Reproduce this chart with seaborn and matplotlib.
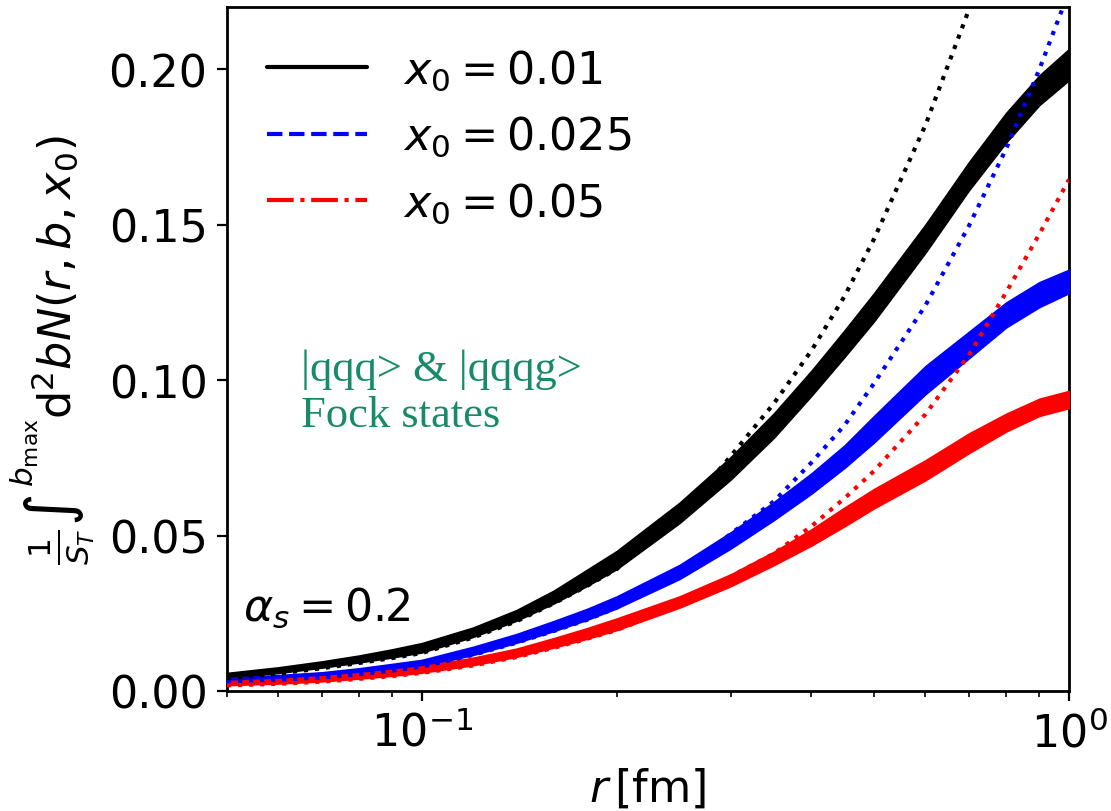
import numpy as np
import seaborn as sns
import matplotlib.pyplot as plt

# dipole size r [fm]
r = [0.05, 0.06, 0.07, 0.08, 0.09, 0.10, 0.12, 0.14, 0.16, 0.18, 0.20,
     0.25, 0.30, 0.35, 0.40, 0.45, 0.50, 0.60, 0.70, 0.80, 0.90, 1.00]

# bands (lower / upper edge) for each x0
black_lo = [0.0042, 0.0058, 0.0075, 0.0092, 0.0108, 0.0124, 0.0174, 0.0226, 0.0282, 0.0338, 0.0392,
            0.0540, 0.0680, 0.0815, 0.0950, 0.1075, 0.1190, 0.1410, 0.1610, 0.1765, 0.1885, 0.1965]
black_hi = [0.0058, 0.0076, 0.0095, 0.0114, 0.0134, 0.0154, 0.0204, 0.0260, 0.0323, 0.0390, 0.0450,
            0.0605, 0.0752, 0.0893, 0.1030, 0.1160, 0.1280, 0.1500, 0.1700, 0.1860, 0.1980, 0.2065]
blue_lo = [0.0029, 0.0036, 0.0044, 0.0055, 0.0067, 0.0079, 0.0116, 0.0155, 0.0193, 0.0229, 0.0266,
           0.0360, 0.0458, 0.0550, 0.0635, 0.0718, 0.0800, 0.0955, 0.1070, 0.1170, 0.1235, 0.1280]
blue_hi = [0.0042, 0.0051, 0.0060, 0.0073, 0.0087, 0.0100, 0.0142, 0.0183, 0.0225, 0.0264, 0.0304,
           0.0405, 0.0510, 0.0608, 0.0700, 0.0790, 0.0885, 0.1045, 0.1155, 0.1250, 0.1315, 0.1355]
red_lo = [0.0019, 0.0024, 0.0031, 0.0040, 0.0049, 0.0059, 0.0083, 0.0110, 0.0140, 0.0168, 0.0196,
          0.0268, 0.0337, 0.0405, 0.0468, 0.0530, 0.0588, 0.0678, 0.0765, 0.0835, 0.0885, 0.0910]
red_hi = [0.0032, 0.0038, 0.0047, 0.0057, 0.0068, 0.0079, 0.0107, 0.0136, 0.0170, 0.0202, 0.0233,
          0.0304, 0.0375, 0.0448, 0.0520, 0.0590, 0.0650, 0.0742, 0.0828, 0.0892, 0.0940, 0.0965]

# dotted reference curves
black_dot = [0.0040, 0.0056, 0.0073, 0.0090, 0.0106, 0.0122, 0.0172, 0.0224, 0.0282, 0.0338, 0.0392,
             0.0560, 0.0755, 0.0925, 0.1095, 0.1270, 0.1455, 0.1820, 0.2190, 0.2560, 0.2930, 0.3300]
blue_dot = [0.0028, 0.0035, 0.0043, 0.0054, 0.0066, 0.0078, 0.0116, 0.0155, 0.0193, 0.0229, 0.0268,
            0.0380, 0.0505, 0.0610, 0.0735, 0.0855, 0.0990, 0.1240, 0.1495, 0.1745, 0.2000, 0.2250]
red_dot = [0.0018, 0.0023, 0.0030, 0.0039, 0.0048, 0.0058, 0.0082, 0.0109, 0.0139, 0.0168, 0.0196,
           0.0275, 0.0368, 0.0442, 0.0530, 0.0620, 0.0708, 0.0890, 0.1080, 0.1283, 0.1470, 0.1645]

labels = [r"$x_0 = 0.01$", r"$x_0 = 0.025$", r"$x_0 = 0.05$"]

sns.set_style("ticks")
plt.rcParams.update({
    "font.family": ["DejaVu Sans"],
    "font.size": 16,
    "axes.edgecolor": "black",
    "axes.labelcolor": "black",
    "text.color": "black",
    "xtick.color": "black",
    "ytick.color": "black",
    "axes.linewidth": 1.0,
})

fig, ax = plt.subplots(figsize=(5.555, 4.06), dpi=200)
fig.subplots_adjust(left=0.2043, right=0.9622, top=0.9901, bottom=0.1478)

series = [
    (black_lo, black_hi, black_dot, "black", "-"),
    (blue_lo, blue_hi, blue_dot, "blue", "--"),
    (red_lo, red_hi, red_dot, "red", "-."),
]

for (lo, hi, dot, col, ls), lab in zip(series, labels):
    mid = [(a + b) / 2 for a, b in zip(lo, hi)]
    sns.lineplot(x=r, y=mid, color=col, linestyle=ls, linewidth=1.5, label=lab, ax=ax)
    ax.fill_between(r, lo, hi, color=col, linewidth=0.6, edgecolor=col, zorder=3)

for lo, hi, dot, col, ls in series:
    sns.lineplot(x=r, y=dot, color=col, linestyle=":", linewidth=1.5, ax=ax, zorder=4)

ax.set_xscale("log")
ax.set_xlim(0.05, 1.0)
ax.set_ylim(0.0, 0.22)
ax.set_yticks([0.0, 0.05, 0.10, 0.15, 0.20])
ax.set_yticklabels(["0.00", "0.05", "0.10", "0.15", "0.20"])

ax.set_xlabel(r"$r\,[\mathrm{fm}]$", fontsize=16)
ax.set_ylabel(r"$\frac{1}{S_T}\int^{b_{\max}}\mathrm{d}^2bN(r,b,x_0)$", fontsize=16)

ax.text(0.053, 0.023, r"$\alpha_s = 0.2$", fontsize=16)
ax.text(0.065, 0.0852, "|qqq> & |qqqg>\nFock states", fontsize=16,
        family=["Liberation Serif", "DejaVu Serif"], color="#178a68", va="baseline")

ax.legend(loc="upper left", frameon=False, handlelength=2.25, fontsize=16)

fig.savefig("out.png", dpi=200)
